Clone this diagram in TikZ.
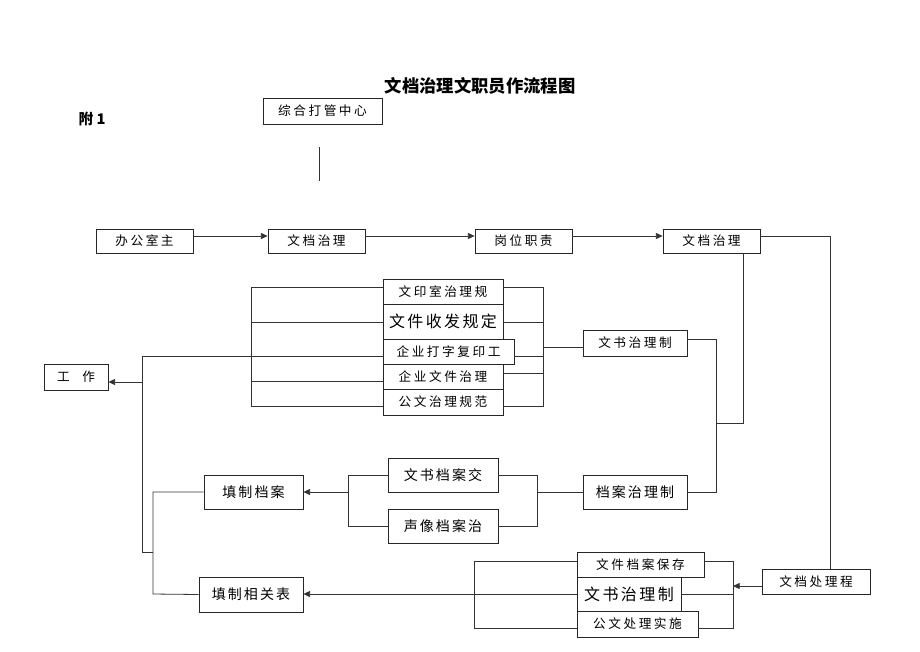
\documentclass[tikz,border=0pt]{standalone}
\usepackage{fontspec}
\setmainfont{Noto Sans CJK SC}
\newfontfamily\cjkwide[LetterSpace=20]{Noto Sans CJK SC}
\newfontfamily\cjkmid[LetterSpace=15]{Noto Sans CJK SC}
\usetikzlibrary{arrows.meta}
\newcommand\bx[7][]{\node[box,minimum width={(#5-#3)*0.75pt},minimum height={(#6-#4)*0.75pt},#1] (#2) at ({(#3+#5)/2},{(#4+#6)/2}) {#7};}
\begin{document}
\begin{tikzpicture}[x=0.75pt,y=-0.75pt,
  box/.style={draw=black!85,line width=0.6pt,inner sep=0pt,fill=white},
  sm/.style={font=\cjkwide\fontsize{9.5}{11}\selectfont},
  md/.style={font=\cjkmid\fontsize{10.5}{12}\selectfont},
  big/.style={font=\cjkmid\fontsize{12}{14}\selectfont},
  ln/.style={draw=black!80,line width=0.6pt},
  arr/.style={ln,-{Triangle[length=5pt,width=4.5pt]}}]
\useasboundingbox (0,0) rectangle (920,651);
\node (title) at (480,86) {\fontsize{13}{15}\selectfont\bfseries 文档治理文职员作流程图};
\node (fu) at (92,119) {\fontsize{11}{13}\selectfont\bfseries 附 1};
\bx[sm]{zh}{263}{98}{382}{124}{综合打管中心}
\bx[sm]{bg}{96}{229}{193}{253}{办公室主}
\bx[sm]{wd1}{268}{229}{365}{253}{文档治理}
\bx[sm]{gw}{475}{229}{572}{253}{岗位职责}
\bx[sm]{wd2}{663}{229}{760}{253}{文档治理}
\bx[sm]{m1}{383}{279}{503}{304}{文印室治理规}
\bx[big]{m2}{383}{304}{503}{339}{文件收发规定}
\bx[sm]{m3}{383}{339}{514}{364}{企业打字复印工}
\bx[sm]{m4}{383}{364}{503}{389}{企业文件治理}
\bx[sm]{m5}{383}{389}{503}{415}{公文治理规范}
\bx[sm]{gz}{44}{364}{108}{390}{工\quad 作}
\bx[sm]{ws}{583}{330}{687}{356}{文书治理制}
\bx[md]{tda}{204}{475}{303}{509}{填制档案}
\bx[md]{wsd}{388}{458}{498}{492}{文书档案交}
\bx[md]{sx}{388}{509}{498}{543}{声像档案治}
\bx[md]{da}{583}{475}{687}{509}{档案治理制}
\bx[md]{tb}{199}{577}{303}{612}{填制相关表}
\bx[sm]{b1}{577}{552}{704}{577}{文件档案保存}
\bx[big]{b2}{577}{577}{681}{611}{文书治理制}
\bx[sm]{b3}{577}{611}{698}{637}{公文处理实施}
\bx[sm]{cl}{762}{569}{870}{594}{文档处理程}
% top stub
\coordinate (v1) at (319,147); \coordinate (v2) at (319,181);
\draw[ln] (v1) -- (v2);
% first row
\draw[arr] (bg.east |- 0,236) -- (wd1.west |- 0,236);
\draw[arr] (wd1.east |- 0,236) -- (gw.west |- 0,236);
\draw[arr] (gw.east |- 0,236) -- (wd2.west |- 0,236);
\draw[ln] (wd2.east |- 0,236) -| (cl.north -| 830,0);
\draw[ln] (wd2.south -| 743,0) |- (716,423);
\draw[ln] (ws.east |- 0,339) -| (716,492) -- (da.east);
% middle group left
\draw[ln] (m1.west |- 0,287) -| (251,406) -- (m5.west |- 0,406);
\draw[ln] (251,322) -- (m2.west |- 0,322);
\draw[ln] (142,356) -- (m3.west |- 0,356);
\draw[ln] (251,381) -- (m4.west |- 0,381);
\draw[ln] (142,356) -- (142,552) -- (153,552);
\draw[arr] (142,382) -- (gz.east |- 0,382);
% middle group right
\draw[ln] (m1.east |- 0,287) -| (543,406) -- (m5.east |- 0,406);
\draw[ln] (m2.east |- 0,322) -- (543,322);
\draw[ln] (m3.east |- 0,356) -- (543,356);
\draw[ln] (m4.east |- 0,373) -- (543,373);
\draw[ln] (543,347) -- (ws.west |- 0,347);
% archive
\draw[ln] (wsd.east) -| (537,526) -- (sx.east);
\draw[ln] (537,492) -- (da.west);
\draw[ln] (wsd.west) -| (348,526) -- (sx.west);
\draw[arr] (348,492) -- (tda.east);
\draw[ln] (tda.west) -| (153,594) -- (tb.west);
% bottom right
\draw[arr] (cl.west |- 0,586) -- (733,586);
\draw[ln] (b1.east |- 0,561) -| (733,628) -- (b3.east |- 0,628);
\draw[ln] (b2.east) -- (733,594);
\draw[ln] (b1.west |- 0,561) -| (474,628) -- (b3.west |- 0,628);
\draw[arr] (b2.west) -- (tb.east |- b2.west);
\end{tikzpicture}
\end{document}
